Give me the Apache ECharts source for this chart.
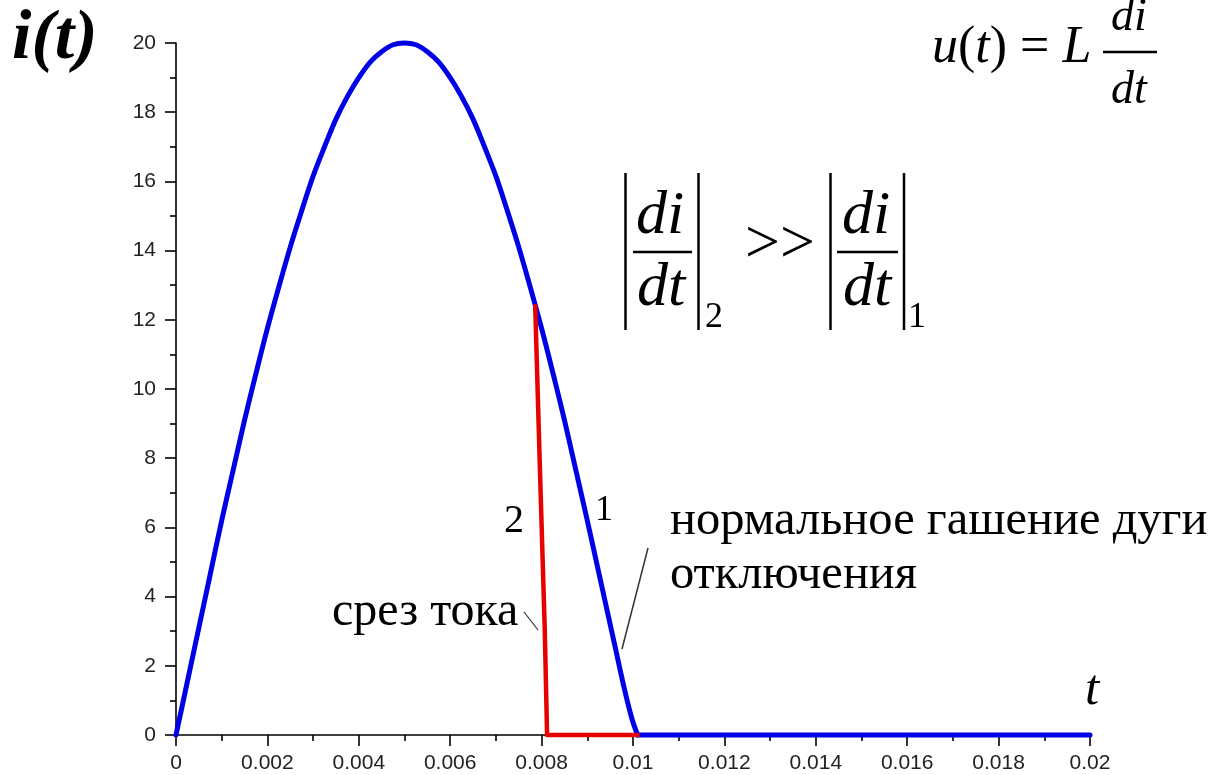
<!DOCTYPE html>
<html><head><meta charset="utf-8">
<script src="https://cdn.jsdelivr.net/npm/echarts@6/dist/echarts.min.js"></script>
<style>html,body{margin:0;padding:0;background:#fff}#c{width:1209px;height:775px}</style>
</head><body><div id="c"></div>
<script>
// ---- data ----
// curve 1 (normal arc extinction): rising/falling half-wave up to current zero
const tBlue = [0,0.00025,0.0005,0.00075,0.001,0.00125,0.0015,0.00175,0.002,0.00225,0.0025,0.00275,0.003,0.00325,0.0035,0.00375,0.004,0.00425,0.0045,0.00475,0.005,0.00525,0.0055,0.00575,0.006,0.00625,0.0065,0.00675,0.007,0.00725,0.0075,0.00775,0.008,0.00825,0.0085,0.00875,0.009,0.0092,0.0094,0.0096,0.0098,0.00997,0.0101];
const iBlue = [0,1.55,3.1,4.65,6.2,7.65,9.1,10.45,11.75,12.95,14.1,15.15,16.15,17.0,17.8,18.45,19.0,19.45,19.75,19.95,20.0,19.95,19.75,19.45,19.0,18.45,17.8,17.0,16.15,15.15,14.1,12.95,11.75,10.45,9.1,7.65,6.2,5.0,3.8,2.6,1.4,0.5,0];
// curve 1 after current zero
const tBlueTail = [0.0101,0.02];
const iBlueTail = [0,0];
// curve 2 (current chopping)
const tRed = [0.00786,0.00797,0.00807,0.00812,0.0101];
const iRed = [12.4,7.4,3.0,0,0];
const xMin = 0, xMax = 0.02, xStep = 0.002;
const yMin = 0, yMax = 20, yStep = 2;

const SERIF = 'Liberation Serif, Times New Roman, serif';
const SANS = 'Liberation Sans, Arial, sans-serif';

function pairs(xs, ys){ return xs.map((x,k)=>[x, ys[k]]); }
function txt(x, base, text, size, opts){
  return {type:'text', x:x, y: base - 0.34*size, z:10,
    style: Object.assign({text:text, fontSize:size, fontFamily:SERIF, fill:'#000',
      verticalAlign:'middle', align:'left'}, opts||{})};
}
function ln(x1,y1,x2,y2,w,c){
  return {type:'line', z:10, shape:{x1:x1,y1:y1,x2:x2,y2:y2}, style:{stroke:c||'#000', lineWidth:w||2}};
}

const chart = echarts.init(document.getElementById('c'), null, {renderer:'canvas'});
const axisCommon = {
  axisLine:{show:true, onZero:false, lineStyle:{color:'#000', width:1.6}},
  axisTick:{show:true, inside:false, length:11, lineStyle:{color:'#000', width:1.6}},
  minorTick:{show:true, splitNumber:2, length:6, lineStyle:{color:'#000', width:1.6}},
  splitLine:{show:false},
  axisLabel:{color:'#222', fontSize:21, fontFamily:SANS, margin:18}
};
const blueStyle = {color:'#0000e6', width:5, join:'round', cap:'round'};
chart.setOption({
  animation:false,
  backgroundColor:'#fff',
  grid:{left:176, right:119, top:43, bottom:40, containLabel:false},
  xAxis: Object.assign({type:'value', min:xMin, max:xMax, interval:xStep}, axisCommon),
  yAxis: Object.assign({type:'value', min:yMin, max:yMax, interval:yStep}, axisCommon,
    {axisLabel:{color:'#222', fontSize:21, fontFamily:SANS, margin:20}}),
  series:[
    {type:'line', data:pairs(tBlue,iBlue), showSymbol:false, clip:false, z:3, smooth:0.35,
     lineStyle:blueStyle},
    {type:'line', data:pairs(tBlueTail,iBlueTail), showSymbol:false, clip:false, z:3,
     lineStyle:blueStyle},
    {type:'line', data:pairs(tRed,iRed), showSymbol:false, clip:false, z:4,
     lineStyle:{color:'#e60000', width:4.5, join:'round', cap:'round'}}
  ],
  graphic:{elements:[
    // i(t)
    txt(12, 64, 'i(t)', 70, {fontStyle:'italic', fontWeight:'bold'}),
    // u(t) = L di/dt
    {type:'text', x:932, y:66-0.34*52, z:10, style:{
      text:'{i|u}{n|(}{i|t}{n|) = }{i|L}', verticalAlign:'middle', align:'left',
      fontSize:52, fontFamily:SERIF, fill:'#000',
      rich:{i:{fontStyle:'italic', fontSize:52, fontFamily:SERIF, lineHeight:52},
            n:{fontStyle:'normal', fontSize:52, fontFamily:SERIF, lineHeight:52}}}},
    txt(1129, 34, 'di', 46, {fontStyle:'italic', align:'center'}),
    ln(1103, 52, 1157, 52, 2.5),
    txt(1129, 107, 'dt', 46, {fontStyle:'italic', align:'center'}),
    // |di/dt|_2 >> |di/dt|_1
    ln(625.5, 173, 625.5, 330, 2.5),
    ln(698.5, 173, 698.5, 330, 2.5),
    txt(660, 238, 'di', 62, {fontStyle:'italic', align:'center'}),
    ln(633, 252, 692, 252, 2.5),
    txt(661, 310, 'dt', 62, {fontStyle:'italic', align:'center'}),
    txt(705, 330, '2', 36),
    txt(745, 267, '>>', 62),
    ln(830.5, 173, 830.5, 330, 2.5),
    ln(904, 173, 904, 330, 2.5),
    txt(866, 238, 'di', 62, {fontStyle:'italic', align:'center'}),
    ln(837, 252, 898, 252, 2.5),
    txt(867, 310, 'dt', 62, {fontStyle:'italic', align:'center'}),
    txt(908, 330, '1', 36),
    // curve labels
    txt(504, 535, '2', 40),
    txt(595, 523, '1', 36),
    txt(670, 538, 'нормальное гашение дуги', 48.5),
    txt(670, 592, 'отключения', 48.5),
    txt(332, 629, 'срез тока', 48),
    ln(524, 612, 538, 630, 1.2, '#333'),
    ln(648, 548, 622, 649, 1.5, '#333'),
    // axis name t
    txt(1085, 708, 't', 51, {fontStyle:'italic'})
  ]}
});
</script></body></html>
